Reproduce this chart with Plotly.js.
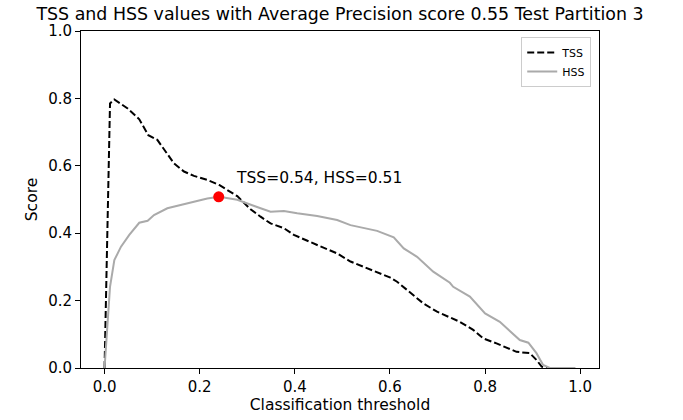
<!DOCTYPE html>
<html><head><meta charset="utf-8">
<script src="https://cdn.plot.ly/plotly-3.0.1.min.js"></script>
<style>body{margin:0;background:#fff}#chart{width:683px;height:420px}</style>
</head><body><div id="chart"></div>
<script>
const tssX = [0.0, 0.0115, 0.0206, 0.0486, 0.073, 0.092, 0.111, 0.146, 0.167, 0.188, 0.216, 0.241, 0.279, 0.307, 0.328, 0.349, 0.377, 0.398, 0.447, 0.489, 0.517, 0.559, 0.601, 0.615, 0.643, 0.670, 0.699, 0.726, 0.747, 0.775, 0.796, 0.824, 0.866, 0.894, 0.908, 0.919, 0.93, 0.99];
const tssY = [0.0, 0.785, 0.797, 0.77, 0.738, 0.691, 0.677, 0.607, 0.583, 0.57, 0.558, 0.543, 0.51, 0.471, 0.449, 0.429, 0.415, 0.395, 0.365, 0.34, 0.316, 0.291, 0.268, 0.256, 0.222, 0.192, 0.167, 0.150, 0.137, 0.113, 0.088, 0.073, 0.048, 0.044, 0.024, 0.004, 0.0, 0.0];
const hssX = [0.0, 0.0115, 0.0206, 0.0346, 0.052, 0.073, 0.0906, 0.104, 0.132, 0.174, 0.216, 0.241, 0.279, 0.328, 0.349, 0.377, 0.405, 0.447, 0.489, 0.517, 0.545, 0.573, 0.608, 0.629, 0.657, 0.691, 0.726, 0.733, 0.768, 0.80, 0.831, 0.873, 0.891, 0.908, 0.922, 0.936, 0.99];
const hssY = [0.0, 0.241, 0.32, 0.36, 0.395, 0.431, 0.437, 0.454, 0.474, 0.489, 0.503, 0.508, 0.499, 0.474, 0.464, 0.466, 0.459, 0.451, 0.439, 0.424, 0.416, 0.407, 0.388, 0.355, 0.33, 0.286, 0.253, 0.241, 0.212, 0.162, 0.137, 0.083, 0.075, 0.044, 0.009, 0.0, 0.0];
const bestX = [0.24];
const bestY = [0.508];
const tickVals = [0, 0.2, 0.4, 0.6, 0.8, 1.0];
const tickText = ["0.0", "0.2", "0.4", "0.6", "0.8", "1.0"];
const noteText = "TSS=0.54, HSS=0.51";

const font = "DejaVu Sans, sans-serif";
const traces = [
  {x: tssX, y: tssY, mode: "lines", name: "TSS", line: {color: "#000000", width: 2, dash: "7px,3px"}},
  {x: hssX, y: hssY, mode: "lines", name: "HSS", line: {color: "#aaaaaa", width: 2}},
  {x: bestX, y: bestY, mode: "markers", showlegend: false, marker: {color: "#ff0000", size: 11}}
];
const axisCommon = {
  showgrid: false, zeroline: false, showline: true, mirror: true, linecolor: "#000", linewidth: 1,
  ticks: "outside", ticklen: 5, tickwidth: 1, tickcolor: "#000",
  tickvals: tickVals, ticktext: tickText, tickfont: {family: font, size: 15, color: "#000"}
};
const layout = {
  width: 683, height: 420,
  margin: {l: 81, r: 84, t: 31, b: 52},
  paper_bgcolor: "#fff", plot_bgcolor: "#fff",
  font: {family: font, color: "#000"},
  title: {text: "TSS and HSS values with Average Precision score 0.55 Test Partition 3",
          font: {family: font, size: 17.4, color: "#000"}, x: 0.5, xref: "paper", y: 0.966, yref: "container", yanchor: "middle"},
  xaxis: Object.assign({}, axisCommon, {range: [-0.0495, 1.0395],
          title: {text: "Classification threshold", font: {family: font, size: 15.5}, standoff: 2}}),
  yaxis: Object.assign({}, axisCommon, {range: [0, 1],
          title: {text: "Score", font: {family: font, size: 15.5}, standoff: 6}}),
  legend: {x: 0.985, y: 0.982, xanchor: "right", yanchor: "top", bgcolor: "rgba(255,255,255,0.8)",
           bordercolor: "#cccccc", borderwidth: 1, font: {family: font, size: 11}, tracegroupgap: 0},
  annotations: [{x: 0.272, y: 0.564, xref: "x", yref: "y", text: noteText, showarrow: false,
                 xanchor: "left", yanchor: "middle", font: {family: font, size: 15.5, color: "#000"}}]
};
Plotly.newPlot("chart", traces, layout, {displayModeBar: false, staticPlot: true});
</script></body></html>
